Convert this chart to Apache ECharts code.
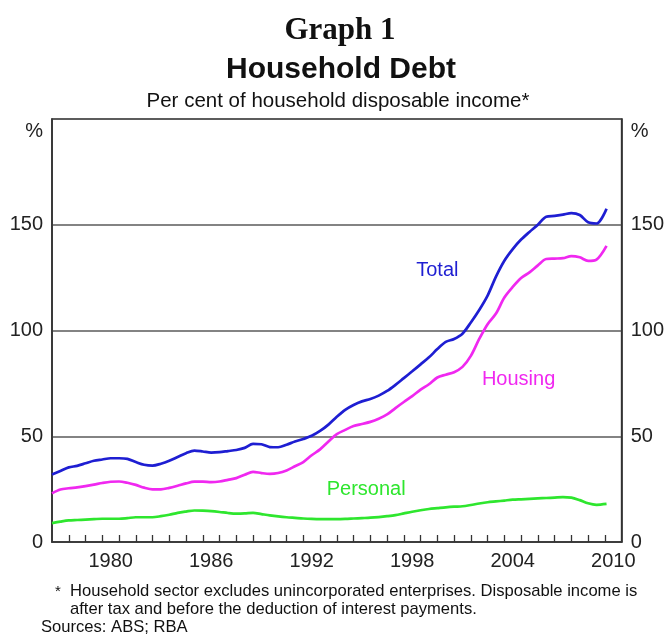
<!DOCTYPE html>
<html>
<head>
<meta charset="utf-8">
<script src="https://cdn.jsdelivr.net/npm/echarts@6/dist/echarts.min.js"></script>
<style>
  html, body { margin: 0; padding: 0; background: #ffffff; }
  #chart { width: 667px; height: 639px; }
</style>
</head>
<body>
<div id="chart"></div>
<script>
// ---- Data (per cent of household disposable income) ----
const dates = [
  1977.0, 1977.5, 1978.0, 1978.5, 1979.0, 1979.5, 1980.0, 1980.5, 1981.0, 1981.5,
  1982.0, 1982.5, 1983.0, 1983.5, 1984.0, 1984.5, 1985.0, 1985.5, 1986.0, 1986.5,
  1987.0, 1987.5, 1988.0, 1988.5, 1989.0, 1989.5, 1990.0, 1990.5, 1991.0, 1991.5,
  1992.0, 1992.5, 1993.0, 1993.5, 1994.0, 1994.5, 1995.0, 1995.5, 1996.0, 1996.5,
  1997.0, 1997.5, 1998.0, 1998.5, 1999.0, 1999.5, 2000.0, 2000.5, 2001.0, 2001.5,
  2002.0, 2002.5, 2003.0, 2003.5, 2004.0, 2004.5, 2005.0, 2005.5, 2006.0, 2006.5,
  2007.0, 2007.5, 2008.0, 2008.5, 2009.0, 2009.5, 2010.1
];
const totalDebt = [
  31.9, 33.6, 35.3, 36.0, 37.2, 38.4, 39.0, 39.6, 39.6, 39.3,
  37.8, 36.5, 36.1, 37.0, 38.4, 40.2, 42.0, 43.2, 42.8, 42.3,
  42.5, 43.0, 43.5, 44.5, 46.4, 46.2, 44.9, 44.8, 46.0, 47.5,
  48.7, 50.2, 52.5, 55.5, 59.2, 62.5, 64.8, 66.5, 67.6, 69.2,
  71.4, 74.3, 77.5, 80.7, 84.0, 87.3, 91.2, 94.6, 96.0, 98.5,
  103.8, 109.7, 116.5, 125.5, 133.0, 138.5, 143.0, 146.6, 150.0, 153.8,
  154.2, 154.8, 155.5, 154.6, 151.2, 150.6, 157.6
];
const housingDebt = [
  23.0, 24.8, 25.4, 25.8, 26.4, 27.1, 27.9, 28.5, 28.6, 28.0,
  27.0, 25.7, 24.9, 24.9, 25.6, 26.6, 27.7, 28.5, 28.5, 28.3,
  28.6, 29.4, 30.2, 31.8, 33.2, 32.6, 32.2, 32.6, 33.8, 35.8,
  37.8, 41.0, 43.8, 47.5, 51.0, 53.0, 54.8, 55.8, 56.8, 58.3,
  60.3, 63.3, 66.2, 69.0, 72.0, 74.6, 77.8, 79.1, 80.3, 82.8,
  88.0, 96.0, 103.0, 108.0, 115.6, 120.6, 124.8, 127.5, 130.8, 133.8,
  134.0, 134.2, 135.2, 134.6, 132.9, 133.5, 140.0
];
const personalDebt = [
  8.9, 9.6, 10.2, 10.4, 10.6, 10.8, 11.0, 11.0, 11.0, 11.3,
  11.7, 11.7, 11.7, 12.2, 12.9, 13.8, 14.4, 14.9, 14.8, 14.6,
  14.2, 13.7, 13.4, 13.5, 13.8, 13.2, 12.6, 12.1, 11.7, 11.4,
  11.1, 10.9, 10.8, 10.8, 10.8, 10.9, 11.1, 11.3, 11.5, 11.8,
  12.2, 12.7, 13.5, 14.3, 15.0, 15.6, 16.0, 16.4, 16.7, 16.9,
  17.5, 18.2, 18.8, 19.2, 19.6, 20.0, 20.2, 20.4, 20.6, 20.8,
  21.0, 21.2, 21.0, 19.8, 18.3, 17.6, 18.0
];
const seriesNames = ['Total', 'Housing', 'Personal'];
const seriesColors = ['#1e1ed2', '#f028f0', '#2ee62e'];
// where each series name is written (data coordinates: year, per cent)
const nameAnchors = [[2000.0, 128.2], [2004.85, 76.7], [1995.75, 24.8]];

// ---- Axis ticks and labels ----
const yearTicks = [];
for (let y = 1978; y <= 2010; y++) yearTicks.push(y);
const yearLabels = [1980, 1986, 1992, 1998, 2004, 2010];
const yTickValues = [0, 50, 100, 150];
const percentMarkAt = 194;

const FONT = 'Liberation Sans, Arial, Helvetica, sans-serif';
const AX = '#333333';

const chart = echarts.init(document.getElementById('chart'), null, { renderer: 'canvas' });

function yAxisCfg(pos, showSplit) {
  return {
    type: 'value', position: pos, min: 0, max: 200, interval: 50,
    axisLine: { show: true, lineStyle: { color: AX, width: 1.6 } },
    axisTick: { show: false },
    splitLine: { show: showSplit, lineStyle: { color: '#5a5a5a', width: 1.5 } },
    axisLabel: {
      customValues: yTickValues.concat([percentMarkAt]),
      formatter: v => (v === percentMarkAt ? '%' : String(v)),
      fontFamily: FONT, fontSize: 20, color: '#222', margin: 9
    }
  };
}

const lineSeries = [totalDebt, housingDebt, personalDebt].map((vals, i) => ({
  name: seriesNames[i],
  type: 'line',
  data: dates.map((d, k) => [d, vals[k]]),
  showSymbol: false,
  smooth: 0.3,
  lineStyle: { color: seriesColors[i], width: 2.7 },
  itemStyle: { color: seriesColors[i] },
  z: 3 + (2 - i)
}));

const nameSeries = {
  type: 'scatter',
  silent: true,
  symbolSize: 0,
  itemStyle: { opacity: 1 },
  data: nameAnchors.map((p, i) => ({
    value: p,
    itemStyle: { color: seriesColors[i], opacity: 1 },
    label: {
      show: true, position: 'inside', formatter: seriesNames[i],
      color: seriesColors[i], fontFamily: FONT, fontSize: 20, opacity: 1
    }
  })),
  z: 10
};

chart.setOption({
  animation: false,
  backgroundColor: '#ffffff',
  title: [
    { text: 'Graph 1', left: 340, top: 15, textAlign: 'center', padding: 0,
      textStyle: { fontFamily: 'Liberation Serif, Times New Roman, serif', fontWeight: 'bold', fontSize: 31, color: '#111' } },
    { text: 'Household Debt', left: 341, top: 55, textAlign: 'center', padding: 0,
      textStyle: { fontFamily: FONT, fontWeight: 'bold', fontSize: 30, color: '#111' } },
    { text: 'Per cent of household disposable income*', left: 338, top: 91, textAlign: 'center', padding: 0,
      textStyle: { fontFamily: FONT, fontWeight: 'normal', fontSize: 20.5, color: '#111' } },
    { text: '*', left: 55, top: 584, padding: 0,
      textStyle: { fontFamily: FONT, fontWeight: 'normal', fontSize: 15, color: '#111' } },
    { text: 'Household sector excludes unincorporated enterprises. Disposable income is\nafter tax and before the deduction of interest payments.',
      left: 70, top: 582, padding: 0,
      textStyle: { fontFamily: FONT, fontWeight: 'normal', fontSize: 16.6, lineHeight: 18.5, color: '#111' } },
    { text: 'Sources: ABS; RBA', left: 41, top: 618, padding: 0,
      textStyle: { fontFamily: FONT, fontWeight: 'normal', fontSize: 16.6, lineHeight: 18, color: '#111' } }
  ],
  grid: {
    left: 52, right: 44, top: 119, bottom: 97,
    show: true, borderColor: AX, borderWidth: 1.6, backgroundColor: 'transparent',
    containLabel: false
  },
  xAxis: {
    type: 'value', min: 1977, max: 2011,
    axisLine: { show: true, lineStyle: { color: AX, width: 1.6 } },
    axisTick: { show: true, inside: true, length: 7, customValues: yearTicks,
      lineStyle: { color: AX, width: 1.3 } },
    splitLine: { show: false },
    axisLabel: {
      customValues: yearLabels.map(y => y + 0.5),
      formatter: v => String(Math.floor(v)),
      fontFamily: FONT, fontSize: 20, color: '#222', margin: 9
    }
  },
  yAxis: [yAxisCfg('left', true), yAxisCfg('right', false)],
  series: lineSeries.concat([nameSeries])
});
</script>
</body>
</html>
